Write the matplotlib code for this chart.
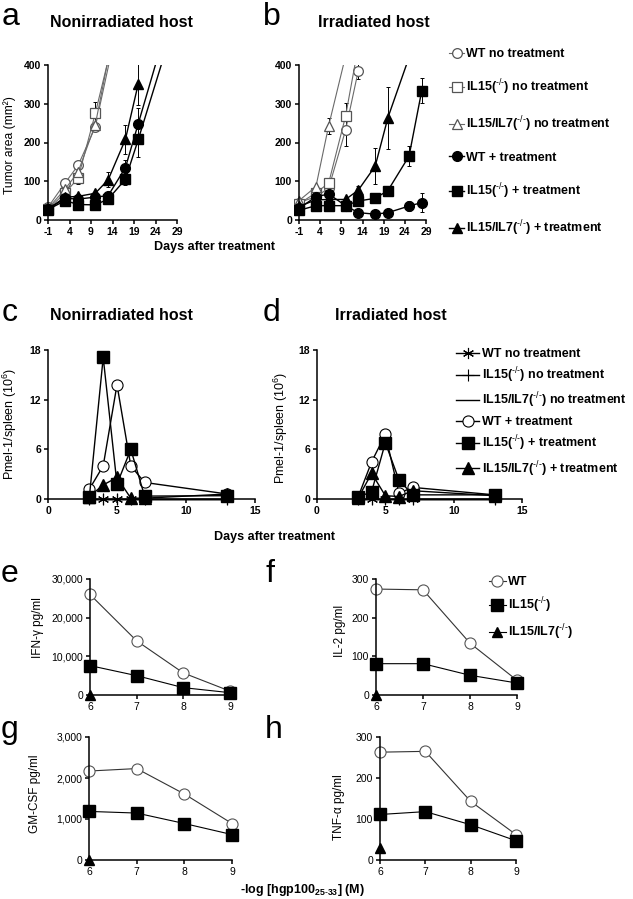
import matplotlib
matplotlib.use("Agg")
import matplotlib.pyplot as plt
from matplotlib.font_manager import FontProperties

plt.rcParams['font.family'] = ['Liberation Sans', 'DejaVu Sans']
plt.rcParams['mathtext.fontset'] = 'custom'
plt.rcParams['mathtext.rm'] = 'Liberation Sans'
plt.rcParams['mathtext.bf'] = 'Liberation Sans:bold'
plt.rcParams['mathtext.default'] = 'bf'
plt.rcParams['axes.unicode_minus'] = False

# ---- panel a: tumor area, nonirradiated host
a_days_nt = [-1, 3, 6, 10, 17]
a_wt_nt = [33, 96, 141, 240, 600]
a_il15_nt = [28, 70, 108, 275, 597]
a_il157_nt = [30, 80, 124, 246, 640]
a_err_nt = [0, 0, 15, 30, 0]

a_days_t = [-1, 3, 6, 10, 13, 17, 20, 27]
a_wt_t = [28, 56, 54, 59, 63, 135, 249, 515]
a_il15_t = [27, 50, 40, 39, 54, 105, 208, 460]
a_days_t3 = [-1, 3, 6, 10, 13, 17, 20]
a_il157_t = [28, 59, 61, 69, 104, 208, 352]
a_err_wt_t = [0, 0, 0, 0, 5, 20, 40, 0]
a_err_il15_t = [0, 0, 0, 0, 5, 15, 45, 0]
a_err_il157_t = [0, 0, 0, 0, 20, 37, 55]

# ---- panel b: tumor area, irradiated host
b_days_nt = [-1, 3, 6, 10, 13]
b_wt_nt = [45, 60, 82, 232, 385]
b_il15_nt = [42, 70, 95, 268, 448]
b_days_nt3 = [-1, 3, 6, 10]
b_il157_nt = [50, 86, 243, 423]
b_err_wt_nt = [0, 0, 0, 40, 20]
b_err_il15_nt = [0, 0, 0, 35, 0]
b_err_il157_nt = [0, 0, 20, 0]

b_days_t = [-1, 3, 6, 10, 13, 17, 20, 25, 28]
b_wt_t = [30, 60, 67, 37, 19, 15, 19, 36, 45]
b_il15_t = [25, 37, 37, 37, 49, 56, 76, 165, 334]
b_days_t3 = [-1, 3, 6, 10, 13, 17, 20, 25]
b_il157_t = [35, 52, 53, 53, 77, 139, 264, 420]
b_err_wt_t = [0, 0, 0, 0, 0, 0, 0, 12, 25]
b_err_il15_t = [0, 0, 0, 0, 0, 0, 0, 25, 32]
b_err_il157_t = [0, 0, 0, 0, 10, 47, 80, 0]

# ---- panels c, d: Pmel-1 per spleen
pm_days = [3, 4, 5, 6, 7, 13]
c_wt_nt = [0, 0, 0, 0, 0, 0]
c_il15_nt = [0, 0, 0, 0, 0, 0]
c_il157_nt = [0, 0, 0, 0, 0, 0]
c_wt_t = [1.2, 4.0, 13.8, 4.0, 2.0, 0.6]
c_il15_t = [0.3, 17.1, 1.8, 6.0, 0.35, 0.4]
c_il157_t = [0.3, 1.7, 2.6, 0.1, 0.1, 0.6]

d_wt_nt = [0, 0, 0, 0, 0, 0]
d_il15_nt = [0, 0, 0, 0, 0, 0]
d_il157_nt = [0, 0, 0, 0, 0, 0]
d_wt_t = [0.2, 4.5, 7.8, 0.7, 1.4, 0.5]
d_il15_t = [0.2, 0.9, 6.8, 2.3, 0.5, 0.5]
d_il157_t = [0.1, 3.1, 0.4, 0.3, 1.0, 0.4]
pm_err = [0, 0, 0, 0, 0, 0.4]

# ---- panels e-h: cytokines vs peptide concentration
conc = [6, 7, 8, 9]
conc_tri = [6]
e_wt = [26000, 14000, 5700, 1000]
e_il15 = [7600, 5000, 1900, 600]
e_il157 = [0]
f_wt = [274, 272, 134, 38]
f_il15 = [81, 81, 51, 31]
f_il157 = [0]
g_wt = [2170, 2230, 1610, 890]
g_il15 = [1185, 1145, 890, 620]
g_il157 = [0]
h_wt = [263, 265, 143, 62]
h_il15 = [111, 118, 86, 47]
h_il157 = [29]

ko = r'$^{\text{-/-}}$'
tumor_labels = ['WT no treatment', f'IL15({ko}) no treatment', f'IL15/IL7({ko}) no treatment',
                'WT + treatment', f'IL15({ko}) + treatment', f'IL15/IL7({ko}) + treatment']
geno_labels = ['WT', f'IL15({ko})', f'IL15/IL7({ko})']

W, H = 633, 899
fig = plt.figure(figsize=(W / 100, H / 100), dpi=100)


def px_axes(left, top, right, bottom):
    return fig.add_axes([left / W, 1 - bottom / H, (right - left) / W, (bottom - top) / H])


def style(ax, bold=True, size=7.5):
    for s in ['top', 'right']:
        ax.spines[s].set_visible(False)
    for s in ['left', 'bottom']:
        ax.spines[s].set_linewidth(1.1)
    ax.tick_params(direction='out', length=3, width=1.1, pad=2, labelsize=size)
    for lab in ax.get_xticklabels() + ax.get_yticklabels():
        lab.set_fontweight('bold' if bold else 'normal')


def tumor_axes(x0, x1):
    # spine at day -1 / area 0, small margins so edge markers are not clipped
    ppd = (x1 - x0) / 30.0
    ppu = (220 - 65) / 400.0
    ax = px_axes(x0 - 1.2 * ppd, 65, x1 + 1.0 * ppd, 220 + 18 * ppu)
    ax.set_xlim(-2.2, 30)
    ax.set_ylim(-18, 400)
    ax.spines['left'].set_position(('data', -1))
    ax.spines['bottom'].set_position(('data', 0))
    ax.spines['left'].set_bounds(0, 400)
    ax.spines['bottom'].set_bounds(-1, 29)
    ax.set_xticks([-1, 4, 9, 14, 19, 24, 29])
    ax.set_yticks([0, 100, 200, 300, 400])
    style(ax)
    return ax


open_kw = dict(color='#6a6a6a', lw=0.8, ms=7, mfc='white', mec='#555555', mew=0.9)
closed_kw = dict(color='black', lw=1.0, ms=7, mfc='black', mec='black')
err_kw = dict(fmt='none', ecolor='black', elinewidth=0.7, capsize=1.5, capthick=0.7)

# panel a
ax = tumor_axes(48, 177)
ax.errorbar(a_days_nt, a_il15_nt, yerr=a_err_nt, **err_kw)
ax.errorbar(a_days_t, a_wt_t, yerr=a_err_wt_t, **err_kw)
ax.errorbar(a_days_t, a_il15_t, yerr=a_err_il15_t, **err_kw)
ax.errorbar(a_days_t3, a_il157_t, yerr=a_err_il157_t, **err_kw)
h_top = []
h_top += ax.plot(a_days_nt, a_wt_nt, marker='o', **open_kw)
h_top += ax.plot(a_days_nt, a_il15_nt, marker='s', **open_kw)
h_top += ax.plot(a_days_nt, a_il157_nt, marker='^', **open_kw)
h_top += ax.plot(a_days_t, a_wt_t, marker='o', **closed_kw)
h_top += ax.plot(a_days_t, a_il15_t, marker='s', **closed_kw)
h_top += ax.plot(a_days_t3, a_il157_t, marker='^', **closed_kw)

# panel b
ax = tumor_axes(299, 426)
ax.errorbar(b_days_nt, b_wt_nt, yerr=b_err_wt_nt, **err_kw)
ax.errorbar(b_days_nt, b_il15_nt, yerr=b_err_il15_nt, **err_kw)
ax.errorbar(b_days_nt3, b_il157_nt, yerr=b_err_il157_nt, **err_kw)
ax.errorbar(b_days_t, b_wt_t, yerr=b_err_wt_t, **err_kw)
ax.errorbar(b_days_t, b_il15_t, yerr=b_err_il15_t, **err_kw)
ax.errorbar(b_days_t3, b_il157_t, yerr=b_err_il157_t, **err_kw)
ax.plot(b_days_nt, b_wt_nt, marker='o', **open_kw)
ax.plot(b_days_nt, b_il15_nt, marker='s', **open_kw)
ax.plot(b_days_nt3, b_il157_nt, marker='^', **open_kw)
ax.plot(b_days_t, b_wt_t, marker='o', **closed_kw)
ax.plot(b_days_t, b_il15_t, marker='s', **closed_kw)
ax.plot(b_days_t3, b_il157_t, marker='^', **closed_kw)


# panels c, d
def pmel_axes(x0, x1, series):
    ax = px_axes(x0, 350, x1, 499)
    ax.set_xlim(0, 15)
    ax.set_ylim(0, 18)
    ax.set_xticks([0, 5, 10, 15])
    ax.set_yticks([0, 6, 12, 18])
    style(ax)
    wt_nt, il15_nt, il157_nt, wt_t, il15_t, il157_t = series
    kw = dict(color='black', lw=1.0, clip_on=False)
    hs = []
    hs += ax.plot(pm_days, wt_nt, marker=(6, 2, 0), ms=8, mew=0.8, **kw)
    hs += ax.plot(pm_days, il15_nt, marker='+', ms=9, mew=0.8, **kw)
    hs += ax.plot(pm_days, il157_nt, **kw)
    for vals in (wt_t, il15_t, il157_t):
        ax.errorbar(pm_days, vals, yerr=pm_err, clip_on=False, **err_kw)
    hs += ax.plot(pm_days, wt_t, marker='o', ms=8, mfc='white', mec='black', mew=0.8, **kw)
    hs += ax.plot(pm_days, il15_t, marker='s', ms=8, mfc='black', mec='black', **kw)
    hs += ax.plot(pm_days, il157_t, marker='^', ms=8, mfc='black', mec='black', **kw)
    return ax, hs


ax_c, h_mid = pmel_axes(48, 255, (c_wt_nt, c_il15_nt, c_il157_nt, c_wt_t, c_il15_t, c_il157_t))
ax_d, _ = pmel_axes(317, 522, (d_wt_nt, d_il15_nt, d_il157_nt, d_wt_t, d_il15_t, d_il157_t))


# panels e-h
def cyto_axes(x0, x1, y0, y1, wt, il15, il157, ymax, step, comma):
    ax = px_axes(x0, y0, x1, y1)
    ax.set_xlim(6, 9)
    ax.set_ylim(0, ymax)
    ax.set_xticks(conc)
    ticks = list(range(0, ymax + 1, step))
    ax.set_yticks(ticks)
    ax.set_yticklabels([f'{t:,}' if comma else str(t) for t in ticks])
    style(ax, bold=False, size=7.5)
    hs = []
    hs += ax.plot(conc, wt, marker='o', color='#333333', lw=0.8, ms=8, mfc='white', mec='#555555',
                  mew=0.8, clip_on=False)
    hs += ax.plot(conc, il15, marker='s', color='black', lw=0.8, ms=8, mfc='black', clip_on=False)
    hs += ax.plot(conc_tri, il157, marker='^', color='black', lw=0.8, ms=7, mfc='black', clip_on=False)
    return hs


h_bot = cyto_axes(90, 230, 579, 695, e_wt, e_il15, e_il157, 30000, 10000, True)
cyto_axes(376, 517, 579, 695, f_wt, f_il15, f_il157, 300, 100, False)
cyto_axes(89, 232, 737, 860, g_wt, g_il15, g_il157, 3000, 1000, True)
cyto_axes(380, 516, 737, 860, h_wt, h_il15, h_il157, 300, 100, False)

# legends
leg_font = FontProperties(family='Liberation Sans', weight='bold', size=9.0)
fig.legend(h_top, tumor_labels, loc='upper left', bbox_to_anchor=(449 / W, 1 - 48 / H),
           frameon=False, borderpad=0, borderaxespad=0, handlelength=1.2, handletextpad=0.2,
           labelspacing=1.4, prop=leg_font)
fig.legend(h_mid, tumor_labels, loc='upper left', bbox_to_anchor=(456 / W, 1 - 348 / H),
           frameon=False, borderpad=0, borderaxespad=0, handlelength=1.85, handletextpad=0.2,
           labelspacing=0.45, prop=leg_font)
fig.legend(h_bot, geno_labels, loc='upper left', bbox_to_anchor=(489 / W, 1 - 576 / H),
           frameon=False, borderpad=0, borderaxespad=0, handlelength=1.35, handletextpad=0.2,
           labelspacing=0.6, prop=leg_font)


def ftext(x, y, s, **kw):
    fig.text(x / W, 1 - y / H, s, **kw)


# panel letters
for letter, x, y in [('a', 2, 25), ('b', 263, 25), ('c', 2, 321), ('d', 263, 321),
                     ('e', 1, 582), ('f', 265, 582), ('g', 1, 738), ('h', 265, 738)]:
    ftext(x, y, letter, fontsize=23, va='baseline')

# titles
ftext(50, 27, 'Nonirradiated host', fontsize=11.5, fontweight='bold', va='baseline')
ftext(318, 27, 'Irradiated host', fontsize=11.5, fontweight='bold', va='baseline')
ftext(50, 320, 'Nonirradiated host', fontsize=11.5, fontweight='bold', va='baseline')
ftext(335, 320, 'Irradiated host', fontsize=11.5, fontweight='bold', va='baseline')

# axis labels
ftext(215, 250, 'Days after treatment', fontsize=9, fontweight='bold', ha='center', va='baseline')
ftext(275, 540, 'Days after treatment', fontsize=9, fontweight='bold', ha='center', va='baseline')
ftext(302, 893, r'-log [hgp100$_{25\text{-}33}$] (M)', fontsize=9, fontweight='bold',
      ha='center', va='baseline')
ftext(10, 145, 'Tumor area (mm²)', fontsize=8.7, rotation=90, ha='center', va='center')
ftext(10, 424, r'Pmel-1/spleen (10$^{\mathrm{6}}$)', fontsize=9, rotation=90, ha='center', va='center')
ftext(281, 428, r'Pmel-1/spleen (10$^{\mathrm{6}}$)', fontsize=9, rotation=90, ha='center', va='center')
ftext(38, 628, 'IFN-γ pg/ml', fontsize=8.5, rotation=90, ha='center', va='center')
ftext(340, 631, 'IL-2 pg/ml', fontsize=8.5, rotation=90, ha='center', va='center')
ftext(35, 794, 'GM-CSF pg/ml', fontsize=8.5, rotation=90, ha='center', va='center')
ftext(339, 807, 'TNF-α pg/ml', fontsize=8.5, rotation=90, ha='center', va='center')

fig.savefig('out.png', dpi=100)
